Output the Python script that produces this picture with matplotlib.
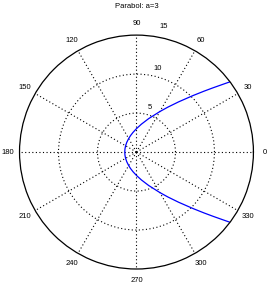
import numpy as np
import matplotlib
matplotlib.use("Agg")
import matplotlib.pyplot as plt

plt.rcParams['font.family'] = ['Liberation Sans', 'DejaVu Sans']

# curve points (angle in degrees, radius)
theta_deg = [36.9, 38, 40, 42, 45, 50, 55, 60, 70, 80, 90, 100, 110, 120, 135,
             150, 165, 180, 195, 210, 225, 240, 250, 260, 270, 280, 290, 300,
             305, 310, 315, 318, 320, 322, 323.1]
radius = [15.0, 14.15, 12.82, 11.68, 10.24, 8.40, 7.04, 6.00, 4.56, 3.63, 3.00,
          2.56, 2.24, 2.00, 1.76, 1.61, 1.53, 1.50, 1.53, 1.61, 1.76, 2.00, 2.24,
          2.56, 3.00, 3.63, 4.56, 6.00, 7.04, 8.40, 10.24, 11.68, 12.82, 14.15, 15.0]

r_ticks = [5, 10, 15]
angle_ticks = list(range(0, 360, 30))
title = "Parabol: a=3"
rmax = 15

fig = plt.figure(figsize=(2.73, 2.87), dpi=100)
ax = fig.add_axes([0.0714, 0.0627, 0.857, 0.815], projection="polar")

ax.plot(np.deg2rad(theta_deg), radius, color=(0, 0, 1), linewidth=0.9)

ax.set_rlim(0, rmax)
ax.set_rticks(r_ticks[:-1])
ax.set_thetagrids(angle_ticks, labels=[""] * len(angle_ticks))
ax.set_yticklabels([])
ax.grid(True, color="k", linewidth=0.8, linestyle=(0, (1, 2.2)))
ax.spines["polar"].set_linewidth(0.9)
ax.tick_params(length=0)

fs = 5.5
for a in angle_ticks:
    ax.text(np.deg2rad(a), rmax * 1.1, str(a), ha="center", va="center",
            fontsize=fs, clip_on=False)

for rv, ang in zip(r_ticks, [74, 76, 78]):
    ax.text(np.deg2rad(ang), rv * 1.0 + 1.0 + (rv == 15) * 0.5, str(rv),
            ha="center", va="center", fontsize=fs, clip_on=False)

fig.text(0.5, 1 - 7 / 287, title, ha="center", va="center", fontsize=fs)

fig.savefig("out.png", dpi=100)
